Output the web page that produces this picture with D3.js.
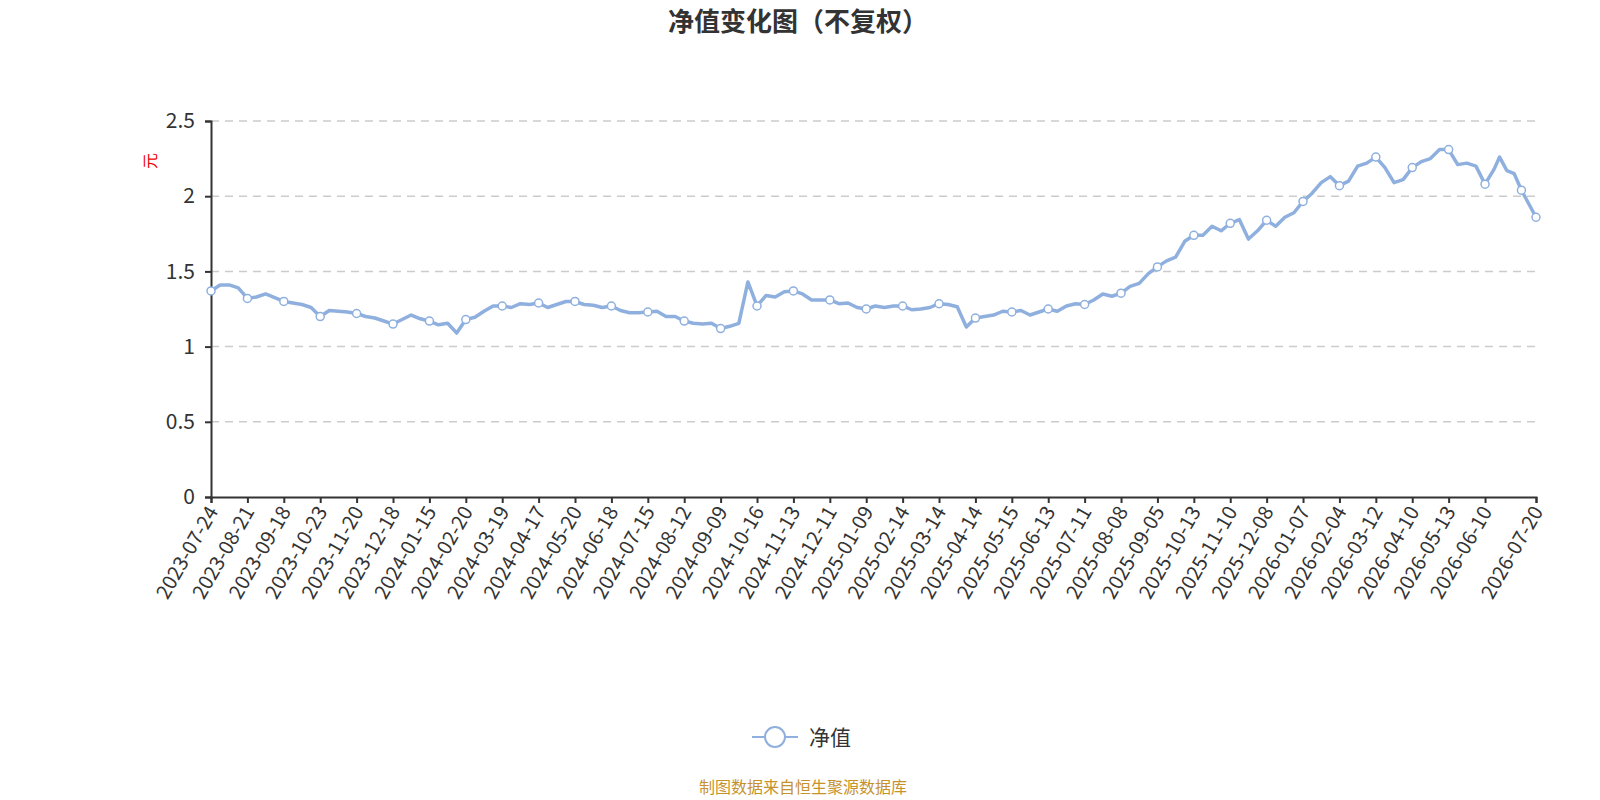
<!DOCTYPE html>
<html><head><meta charset="utf-8">
<script src="https://cdn.jsdelivr.net/npm/d3@7/dist/d3.min.js"></script>
<style>body{margin:0;background:#fff}text{font-family:"Noto Sans CJK SC","Noto Sans",sans-serif}</style>
</head><body><svg id="c" width="1600" height="800"></svg>
<script>
const tickLabels=["2023-07-24","2023-08-21","2023-09-18","2023-10-23","2023-11-20","2023-12-18","2024-01-15","2024-02-20","2024-03-19","2024-04-17","2024-05-20","2024-06-18","2024-07-15","2024-08-12","2024-09-09","2024-10-16","2024-11-13","2024-12-11","2025-01-09","2025-02-14","2025-03-14","2025-04-14","2025-05-15","2025-06-13","2025-07-11","2025-08-08","2025-09-05","2025-10-13","2025-11-10","2025-12-08","2026-01-07","2026-02-04","2026-03-12","2026-04-10","2026-05-13","2026-06-10","2026-07-20"];
// NAV sampled every 5 trading days (index 0..700)
const navValues=[
1.37,1.41,1.41,1.39, 1.32,1.33,1.35,1.325, 1.30,1.29,1.28,1.26, 1.20,1.24,1.235,1.23,
1.22,1.20,1.19,1.17, 1.15,1.18,1.21,1.185, 1.17,1.145,1.155,1.09, 1.18,1.195,1.235,1.27,
1.27,1.26,1.285,1.28, 1.29,1.26,1.28,1.30, 1.30,1.28,1.275,1.26, 1.27,1.24,1.225,1.225,
1.23,1.235,1.20,1.20, 1.17,1.155,1.15,1.155, 1.12,1.135,1.155,1.43, 1.27,1.34,1.33,1.365,
1.37,1.35,1.31,1.31, 1.31,1.285,1.29,1.26, 1.25,1.27,1.26,1.27, 1.27,1.245,1.25,1.26,
1.285,1.28,1.265,1.13, 1.19,1.20,1.21,1.235, 1.23,1.24,1.21,1.23, 1.25,1.235,1.27,1.285,
1.28,1.31,1.35,1.335, 1.355,1.40,1.42,1.485, 1.53,1.57,1.595,1.70, 1.74,1.74,1.80,1.77,
1.82,1.845,1.715,1.77, 1.84,1.80,1.86,1.89, 1.965,2.02,2.09,2.13, 2.07,2.10,2.20,2.22,
2.26,2.19,2.09,2.11, 2.19,2.23,2.25,2.31, 2.31,2.21,2.22,2.20, 2.08];
const tailIndex=[705,708,712,716,720,724,728];
const tailValues=[2.18,2.26,2.17,2.15,2.04,1.95,1.86];
const yTicks=[0,0.5,1,1.5,2,2.5];

const data=navValues.map((v,i)=>({i:i*5,v})).concat(tailValues.map((v,j)=>({i:tailIndex[j],v})));
const lastIdx=tailIndex[tailIndex.length-1];
const svg=d3.select("#c");
const L=211,R=1536,T=121,B=497;
const x=d3.scaleLinear().domain([0,lastIdx]).range([L,R]);
const y=d3.scaleLinear().domain([0,2.5]).range([B,T]);
const col="#8fb0de";

svg.append("text").attr("x",798).attr("y",31).attr("text-anchor","middle").attr("font-size",26).attr("font-weight","bold").attr("fill","#333").text("净值变化图（不复权）");

svg.append("g").selectAll("line").data(yTicks.slice(1)).join("line")
 .attr("x1",L).attr("x2",R).attr("y1",d=>y(d)).attr("y2",d=>y(d))
 .attr("stroke","#ccc").attr("stroke-width",1.5).attr("stroke-dasharray","8,6");

const ya=svg.append("g").attr("transform",`translate(${L},0)`).call(d3.axisLeft(y).tickValues(yTicks).tickFormat(d3.format("~g")).tickSize(6).tickPadding(10));
ya.selectAll("text").attr("font-size",21).attr("fill","#333");
ya.selectAll("line,path").attr("stroke","#333").attr("stroke-width",2);
svg.append("text").attr("transform","translate(156,161) rotate(-90)").attr("text-anchor","middle").attr("font-size",16).attr("fill","#e00").text("元");

const tickIdx=tickLabels.map((d,k)=>k<tickLabels.length-1?k*20:lastIdx);
const xa=svg.append("g").attr("transform",`translate(0,${B})`).call(d3.axisBottom(x).tickValues(tickIdx).tickFormat((d,k)=>tickLabels[k]).tickSize(6));
xa.select("path").attr("stroke","#333").attr("stroke-width",2);
xa.selectAll("line").attr("stroke","#333").attr("stroke-width",2);
xa.selectAll("text").attr("font-size",20).attr("fill","#333").attr("text-anchor","end")
 .attr("transform","translate(-4,8) rotate(-60)").attr("dy","0.35em").attr("y",6);

svg.append("path").datum(data).attr("fill","none").attr("stroke",col).attr("stroke-width",3.5).attr("stroke-linejoin","round")
 .attr("d",d3.line().x(d=>x(d.i)).y(d=>y(d.v)));
svg.append("g").selectAll("circle").data(data.filter(d=>d.i%20===0||d.i===lastIdx)).join("circle")
 .attr("cx",d=>x(d.i)).attr("cy",d=>y(d.v)).attr("r",4).attr("fill","#fff").attr("stroke",col).attr("stroke-width",1.5);

svg.append("line").attr("x1",752).attr("x2",798).attr("y1",737).attr("y2",737).attr("stroke",col).attr("stroke-width",2);
svg.append("circle").attr("cx",775).attr("cy",737).attr("r",10).attr("fill","#fff").attr("stroke",col).attr("stroke-width",2);
svg.append("text").attr("x",809).attr("y",745).attr("font-size",21).attr("fill","#333").text("净值");
svg.append("text").attr("x",803).attr("y",793).attr("text-anchor","middle").attr("font-size",16).attr("fill","#c8922a").text("制图数据来自恒生聚源数据库");
</script></body></html>
